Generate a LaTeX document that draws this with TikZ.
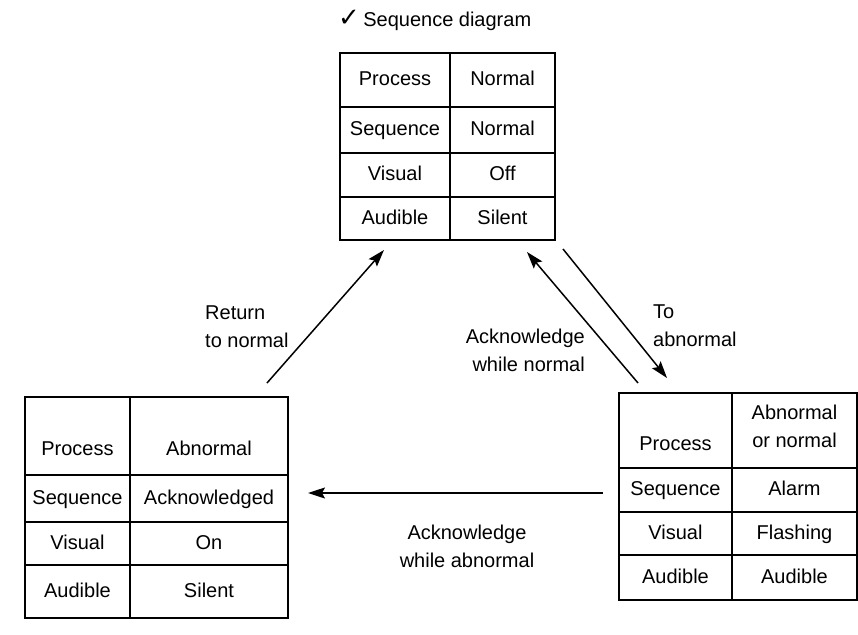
\documentclass[tikz,border=0pt]{standalone}
\usepackage{fontspec}
\setmainfont{Liberation Sans}
\newfontfamily\tickfont{DejaVu Sans}
\usepackage{tikz}
\usetikzlibrary{arrows.meta,positioning,fit}
\tikzset{
  cell/.style={draw, line width=1.8pt, outer sep=0pt, inner sep=1pt, align=center,
    font=\fontsize{20}{28}\selectfont, execute at begin node=\strut},
  area/.style={inner sep=0pt, outer sep=0pt},
  flow/.style={draw, line width=1.5pt, -{Stealth[length=17pt, width=11pt, inset=3pt]}},
  lbl/.style={font=\fontsize{20}{28}\selectfont, inner sep=0pt}
}
\begin{document}
\begin{tikzpicture}[x=1pt, y=-1pt]
    \useasboundingbox (0,0) rectangle (858,634);

    % normal state
    \node[lbl, anchor=west] (title) at (338,20) {{\tickfont\fontsize{26}{28}\selectfont ✓}\,Sequence diagram};
    \node[cell, minimum width=110pt, minimum height=54pt, anchor=north west] (tpk) at (340,53) {Process};
    \node[cell, minimum width=105pt, minimum height=54pt, right=0pt of tpk] (tpv) {Normal};
    \node[cell, minimum width=110pt, minimum height=46pt, below=0pt of tpk] (tsk) {Sequence};
    \node[cell, minimum width=105pt, minimum height=46pt, right=0pt of tsk] (tsv) {Normal};
    \node[cell, minimum width=110pt, minimum height=44pt, below=0pt of tsk] (tvk) {Visual};
    \node[cell, minimum width=105pt, minimum height=44pt, right=0pt of tvk] (tvv) {Off};
    \node[cell, minimum width=110pt, minimum height=43pt, below=0pt of tvk] (tak) {Audible};
    \node[cell, minimum width=105pt, minimum height=43pt, right=0pt of tak] (tav) {Silent};
    \node[area, fit=(tpk)(tav)] (top) {};

    % acknowledged state
    \node[cell, minimum width=105pt, minimum height=78pt, anchor=north west] (lpk) at (25,397) {\strut\\Process};
    \node[cell, minimum width=158pt, minimum height=78pt, right=0pt of lpk] (lpv) {\strut\\Abnormal};
    \node[cell, minimum width=105pt, minimum height=47pt, below=0pt of lpk] (lsk) {Sequence};
    \node[cell, minimum width=158pt, minimum height=47pt, right=0pt of lsk] (lsv) {Acknowledged};
    \node[cell, minimum width=105pt, minimum height=43pt, below=0pt of lsk] (lvk) {Visual};
    \node[cell, minimum width=158pt, minimum height=43pt, right=0pt of lvk] (lvv) {On};
    \node[cell, minimum width=105pt, minimum height=53pt, below=0pt of lvk] (lak) {Audible};
    \node[cell, minimum width=158pt, minimum height=53pt, right=0pt of lak] (lav) {Silent};
    \node[area, fit=(lpk)(lav)] (lft) {};

    % alarm state
    \node[cell, minimum width=113pt, minimum height=75pt, anchor=north west] (rpk) at (619,393) {\strut\\Process};
    \node[cell, minimum width=125pt, minimum height=75pt, right=0pt of rpk] (rpv) {Abnormal\\or normal};
    \node[cell, minimum width=113pt, minimum height=44pt, below=0pt of rpk] (rsk) {Sequence};
    \node[cell, minimum width=125pt, minimum height=44pt, right=0pt of rsk] (rsv) {Alarm};
    \node[cell, minimum width=113pt, minimum height=43pt, below=0pt of rsk] (rvk) {Visual};
    \node[cell, minimum width=125pt, minimum height=43pt, right=0pt of rvk] (rvv) {Flashing};
    \node[cell, minimum width=113pt, minimum height=45pt, below=0pt of rvk] (rak) {Audible};
    \node[cell, minimum width=125pt, minimum height=45pt, right=0pt of rak] (rav) {Audible};
    \node[area, fit=(rpk)(rav)] (rgt) {};

    % transitions
    \draw[flow] ([xshift=-21pt,yshift=14pt]lft.north east) -- ([xshift=44pt,yshift=-10pt]top.south west);
    \draw[flow] ([xshift=19pt,yshift=10pt]rgt.north west) -- ([xshift=-28pt,yshift=-12pt]top.south east);
    \draw[flow] ([xshift=8pt,yshift=-9pt]top.south east) -- ([xshift=48pt,yshift=15pt]rgt.north west);
    \coordinate (ackab) at ([xshift=-16pt,yshift=-3pt]rsk.west);
    \draw[flow] (ackab) -- ([xshift=20pt]ackab -| lsv.east);

    \node[lbl, align=left, anchor=west] (retlbl) at (205,327) {Return\\to normal};
    \node[lbl, align=right, anchor=east] (acknlbl) at (585,350) {Acknowledge\\while normal};
    \node[lbl, align=left, anchor=west] (ablbl) at (653,326) {To\\abnormal};
    \node[lbl, align=center] (ackablbl) at (467,546) {Acknowledge\\while abnormal};
\end{tikzpicture}
\end{document}
